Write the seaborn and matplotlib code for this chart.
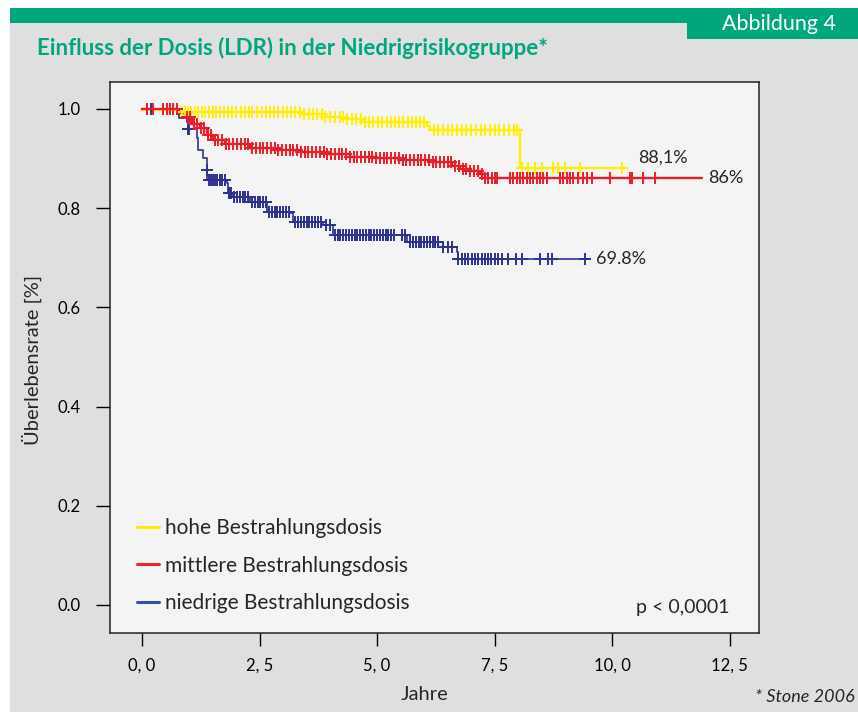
import numpy as np
import matplotlib
matplotlib.use("Agg")
import matplotlib.pyplot as plt
from matplotlib.patches import Rectangle
from matplotlib.lines import Line2D
import seaborn as sns

# Kaplan-Meier steps (years, survival)
yellow_t = [0.0, 0.80, 3.40, 3.90, 4.30, 4.70, 6.05, 6.12, 8.04, 10.31]
yellow_s = [0.997, 0.993, 0.989, 0.984, 0.979, 0.974, 0.966, 0.958, 0.882, 0.882]

red_t = [0.0, 0.77, 0.91, 1.06, 1.23, 1.38, 1.51, 1.76, 2.30, 2.83, 3.36, 3.89,
         4.42, 4.95, 5.48, 6.12, 6.59, 6.76, 6.97, 7.19, 7.29, 11.90]
red_s = [1.0, 0.992, 0.984, 0.970, 0.962, 0.948, 0.938, 0.929, 0.921, 0.917, 0.913, 0.909,
         0.903, 0.901, 0.897, 0.893, 0.885, 0.879, 0.875, 0.869, 0.861, 0.861]

blue_t = [0.0, 0.79, 0.98, 1.17, 1.19, 1.30, 1.38, 1.39, 1.81, 1.83, 1.93, 2.30, 2.66,
          3.15, 3.21, 3.85, 4.06, 5.63, 6.40, 6.70, 6.72, 9.48]
blue_s = [1.0, 0.982, 0.960, 0.942, 0.917, 0.901, 0.877, 0.857, 0.851, 0.831, 0.823, 0.813, 0.793,
          0.791, 0.773, 0.766, 0.746, 0.732, 0.722, 0.712, 0.698, 0.698]

# censored observations (years)
yellow_c = [0.85, 0.92, 0.98, 1.05, 1.12, 1.2, 1.28, 1.35, 1.43, 1.5, 1.58, 1.66, 1.75, 1.83,
            1.92, 2.0, 2.1, 2.18, 2.27, 2.35, 2.45, 2.55, 2.63, 2.72, 2.8, 2.9, 3.0, 3.08,
            3.17, 3.26, 3.35, 3.45, 3.55, 3.63, 3.72, 3.82, 3.9, 4.0, 4.1, 4.2, 4.28, 4.37,
            4.46, 4.55, 4.65, 4.74, 4.83, 4.92, 5.02, 5.1, 5.2, 5.3, 5.38, 5.47, 5.56, 5.65,
            5.74, 5.83, 5.92, 6.0, 6.2, 6.3, 6.4, 6.5, 6.6, 6.7, 6.8, 6.9, 7.0, 7.1, 7.2,
            7.3, 7.4, 7.5, 7.6, 7.7, 7.8, 7.9, 7.98, 8.08, 8.21, 8.35, 8.5, 8.74, 8.84,
            8.99, 9.31, 10.2]
red_c = [0.1, 0.23, 0.45, 0.53, 0.6, 0.66, 0.74, 0.95, 1.02, 1.1, 1.17, 1.25, 1.32, 1.4,
         1.47, 1.55, 1.62, 1.7, 1.78, 1.86, 1.94, 2.02, 2.1, 2.18, 2.26, 2.34, 2.42, 2.5,
         2.58, 2.66, 2.74, 2.82, 2.9, 2.98, 3.06, 3.14, 3.22, 3.3, 3.38, 3.46, 3.54, 3.62,
         3.7, 3.78, 3.86, 3.94, 4.02, 4.1, 4.18, 4.26, 4.34, 4.42, 4.5, 4.58, 4.66, 4.74,
         4.82, 4.9, 4.98, 5.06, 5.14, 5.22, 5.3, 5.38, 5.46, 5.54, 5.62, 5.7, 5.78, 5.86,
         5.94, 6.02, 6.1, 6.18, 6.26, 6.34, 6.42, 6.5, 6.58, 6.66, 6.74, 6.82, 6.9, 6.98,
         7.06, 7.14, 7.22, 7.29, 7.36, 7.44, 7.50, 7.55, 7.82, 7.89, 7.97, 8.04, 8.10,
         8.18, 8.25, 8.31, 8.40, 8.46, 8.52, 8.61, 8.89, 8.95, 9.04, 9.10, 9.16, 9.27,
         9.37, 9.46, 9.57, 9.95, 10.37, 10.42, 10.65, 10.91]
blue_c = [0.10, 0.20, 0.98, 1.0, 1.38, 1.42, 1.46, 1.50, 1.55, 1.60, 1.65, 1.70, 1.76, 1.86,
          1.90, 1.96, 2.02, 2.08, 2.14, 2.20, 2.26, 2.34, 2.40, 2.46, 2.52, 2.58, 2.64, 2.70,
          2.76, 2.82, 2.88, 2.94, 3.00, 3.06, 3.12, 3.26, 3.32, 3.38, 3.44, 3.50, 3.56, 3.62,
          3.68, 3.74, 3.80, 3.92, 4.00, 4.10, 4.16, 4.22, 4.28, 4.34, 4.40, 4.46, 4.52, 4.58,
          4.64, 4.70, 4.76, 4.82, 4.88, 4.94, 5.00, 5.06, 5.12, 5.18, 5.24, 5.30, 5.36, 5.52,
          5.60, 5.70, 5.76, 5.82, 5.88, 5.94, 6.00, 6.06, 6.12, 6.18, 6.24, 6.30, 6.40, 6.51,
          6.59, 6.73, 6.80, 6.87, 6.94, 7.01, 7.08, 7.15, 7.22, 7.29, 7.36, 7.43, 7.50, 7.57,
          7.65, 7.78, 7.96, 8.07, 8.46, 8.64, 8.71, 9.42]

groups = ["hohe Bestrahlungsdosis", "mittlere Bestrahlungsdosis", "niedrige Bestrahlungsdosis"]
end_labels = ["88,1%", "86%", "69.8%"]
x_ticks = [0, 2.5, 5, 7.5, 10, 12.5]
x_ticklabels = ["0, 0", "2, 5", "5, 0", "7, 5", "10, 0", "12, 5"]
y_ticks = [0.0, 0.2, 0.4, 0.6, 0.8, 1.0]

GREEN = "#00A67C"
YELLOW = "#FFF000"
RED = "#ED1C24"
BLUE = "#2E3192"

sns.set_theme(style="white")
plt.rcParams["font.family"] = ["Lato", "DejaVu Sans"]

W, H = 858, 712
fig = plt.figure(figsize=(W / 100, H / 100), dpi=100)
fig.patch.set_facecolor("white")


def fx(px):
    return px / W


def fy(py):
    return 1 - py / H


# page background, green bar, tab (behind the axes)
fig.patches.append(Rectangle((fx(10), 0), fx(W - 10), fy(23), transform=fig.transFigure,
                             facecolor="#DFDFDF", edgecolor="none", zorder=-2))
fig.patches.append(Rectangle((fx(10), fy(23)), fx(W - 10), 15 / H, transform=fig.transFigure,
                             facecolor=GREEN, edgecolor="none", zorder=-2))
fig.patches.append(Rectangle((fx(687), fy(39)), fx(W - 687), 31 / H, transform=fig.transFigure,
                             facecolor=GREEN, edgecolor="none", zorder=-2))
fig.text(fx(779), fy(24), "Abbildung 4", color="white", fontsize=15.5,
         ha="center", va="center")
fig.text(fx(37), fy(48), "Einfluss der Dosis (LDR) in der Niedrigrisikogruppe*",
         color=GREEN, fontsize=16, fontweight="bold", ha="left", va="center")

ax = fig.add_axes([fx(110), fy(633), fx(759 - 110), 551 / H])
ax.set_facecolor("#F4F4F4")

series = [(yellow_t, yellow_s, yellow_c, YELLOW, 1.7),
          (blue_t, blue_s, blue_c, BLUE, 1.2),
          (red_t, red_s, red_c, RED, 1.7)]
for t, s, c, col, lw in series:
    sns.lineplot(x=t, y=s, ax=ax, color=col, linewidth=lw, drawstyle="steps-post",
                 estimator=None, zorder=3)
    idx = np.searchsorted(t, c, side="right") - 1
    cs = np.asarray(s)[idx]
    sns.scatterplot(x=c, y=cs, ax=ax, marker="+", s=75, linewidth=1.4, color=col, zorder=4)

ax.set_xlim(-0.68, 13.12)
ax.set_ylim(-0.0565, 1.0544)
ax.set_xticks(x_ticks)
ax.set_xticklabels(x_ticklabels)
ax.set_yticks(y_ticks)
ax.set_yticklabels([f"{v:.1f}" for v in y_ticks])
ax.tick_params(axis="x", direction="out", length=9, width=1, pad=9, labelsize=12,
               colors="black", bottom=True)
ax.tick_params(axis="y", direction="out", length=10, width=1, pad=11, labelsize=12,
               colors="black", left=True)
for sp in ax.spines.values():
    sp.set_visible(True)
    sp.set_color("#222222")
    sp.set_linewidth(1.1)

# end labels
ax.text(10.55, yellow_s[-1] + 0.02, end_labels[0], fontsize=13, va="center", ha="left")
ax.text(12.03, red_s[-1], end_labels[1], fontsize=13, va="center", ha="left")
ax.text(9.65, blue_s[-1], end_labels[2], fontsize=13, va="center", ha="left")
ax.text(12.5, -0.005, "p < 0,0001", fontsize=14, va="center", ha="right")

handles = [Line2D([0], [0], color=c, lw=2.2) for c in ["#FFED00", "#E52A2F", "#3450A3"]]
ax.legend(handles, groups, loc="upper left", bbox_to_anchor=(fx(137), fy(518)),
          bbox_transform=fig.transFigure, frameon=False, fontsize=15,
          handlelength=1.05, handletextpad=0.3, labelspacing=0.84,
          borderpad=0, borderaxespad=0)

ax.set_xlabel("")
ax.set_ylabel("")
fig.text(fx(425), fy(695), "Jahre", fontsize=14.5, ha="center", va="center")
fig.text(fx(32), fy(360), "Überlebensrate [%]", fontsize=14.5, rotation=90,
         ha="center", va="center")
fig.text(fx(855), fy(697), "* Stone 2006", fontsize=13, style="italic",
         ha="right", va="center")

fig.savefig("out.png", dpi=100)
